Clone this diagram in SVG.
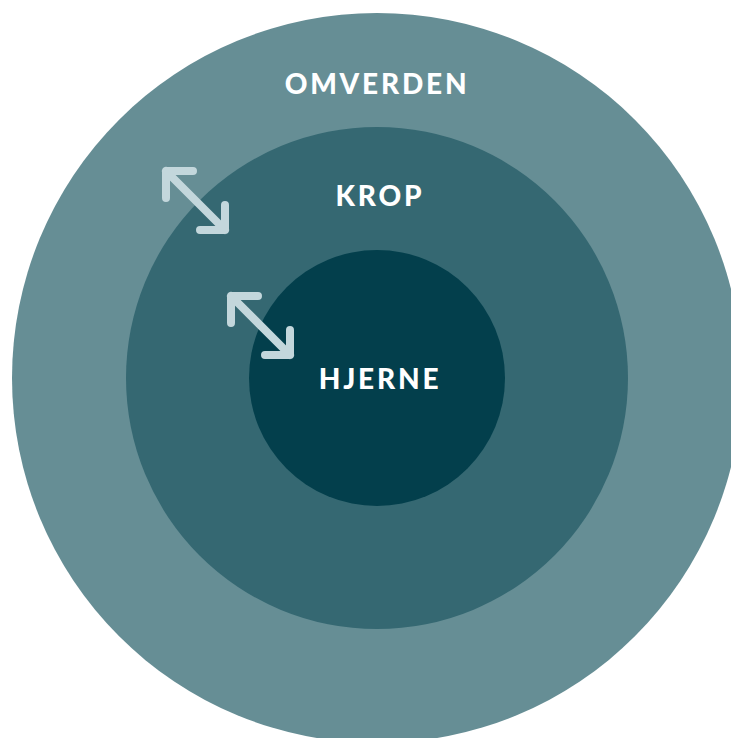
<svg xmlns="http://www.w3.org/2000/svg" width="731" height="738" viewBox="0 0 731 738">
<defs>
<style>
.lbl{font-family:"Lato","Open Sans","Liberation Sans",sans-serif;font-weight:900;font-size:28px;fill:#ffffff;text-anchor:middle;letter-spacing:2.8px}
.arr{fill:none;stroke:#c3d7dc;stroke-width:8;stroke-linecap:round;stroke-linejoin:round}
</style>
</defs>
<rect width="731" height="738" fill="#ffffff"/>
<g id="omverden">
<circle cx="377" cy="378" r="365" fill="#668e95"/>
<text class="lbl" x="377" y="94">OMVERDEN</text>
</g>
<g id="krop">
<circle cx="377" cy="378" r="251" fill="#356872"/>
<text class="lbl" x="380" y="206">KROP</text>
</g>
<g id="hjerne">
<circle cx="377" cy="378" r="128" fill="#033f4c"/>
<text class="lbl" x="380" y="389">HJERNE</text>
</g>
<g id="connectors">
<path class="arr" d="M193 171 H166 V198 M166 171 L225 230 M225 205 V230 H200"/>
<path class="arr" d="M258 296 H231 V323 M231 296 L290 355 M290 330 V355 H265"/>
</g>
</svg>
